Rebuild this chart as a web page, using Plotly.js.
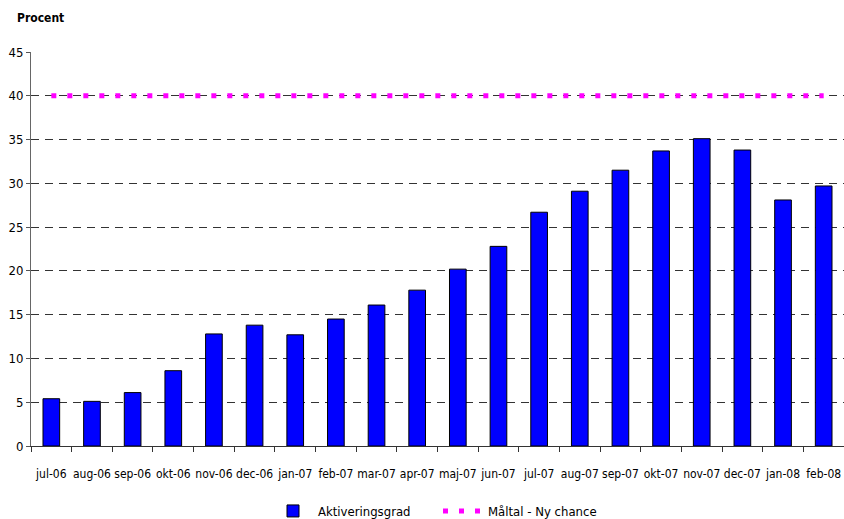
<!DOCTYPE html>
<html>
<head>
<meta charset="utf-8">
<script src="https://cdn.plot.ly/plotly-3.0.1.min.js"></script>
<style>html,body{margin:0;padding:0;background:#fff;}#chart{width:844px;height:519px;}</style>
</head>
<body>
<div id="chart"></div>
<script>
const months = ["jul-06","aug-06","sep-06","okt-06","nov-06","dec-06","jan-07","feb-07","mar-07","apr-07","maj-07","jun-07","jul-07","aug-07","sep-07","okt-07","nov-07","dec-07","jan-08","feb-08"];
const aktiveringsgrad = [5.4,5.1,6.1,8.6,12.8,13.8,12.7,14.5,16.1,17.8,20.2,22.8,26.7,29.1,31.5,33.7,35.1,33.8,28.1,29.7];
const maltal = [40,40,40,40,40,40,40,40,40,40,40,40,40,40,40,40,40,40,40,40];
const yTicks = [0,5,10,15,20,25,30,35,40,45];

const FONT = '"DejaVu Sans Condensed", "Liberation Sans Narrow", "Arial Narrow", sans-serif';

const traces = [
  {
    type: 'bar', name: 'Aktiveringsgrad', x: months, y: aktiveringsgrad,
    width: 0.41,
    marker: {color: '#0000FF', line: {color: '#000000', width: 1}}
  },
  {
    type: 'scatter', mode: 'lines', name: 'Måltal - Ny chance', x: months, y: maltal,
    line: {color: '#FF00FF', width: 5, dash: '5px,11px'}
  }
];

const layout = {
  width: 844, height: 519,
  margin: {l: 31, r: 0, t: 52, b: 73},
  paper_bgcolor: '#ffffff', plot_bgcolor: '#ffffff',
  font: {family: FONT, size: 12, color: '#000'},
  title: {text: '<b>Procent</b>', x: 17/844, xanchor: 'left', xref: 'container', y: 1 - 18/519, yanchor: 'middle', yref: 'container', font: {family: FONT, size: 12, color: '#000'}},
  showlegend: true,
  legend: {orientation: 'h', x: 268/844, xanchor: 'left', xref: 'container', y: 1 - 511/519, yanchor: 'middle', yref: 'container', font: {family: FONT, size: 13}, entrywidth: 115, entrywidthmode: 'pixels', itemwidth: 40, tracegroupgap: 0, traceorder: 'normal'},
  bargap: 0.59,
  xaxis: {
    type: 'category', tickson: 'boundaries', ticks: 'outside', ticklen: 5, tickcolor: '#333',
    tickangle: 0, ticklabelstandoff: 17,
    showline: true, linecolor: '#333', linewidth: 1, showgrid: false,
    tickfont: {family: FONT, size: 12}, automargin: false
  },
  yaxis: {
    range: [0, 45], tickvals: yTicks, ticks: 'outside', ticklen: 4, tickcolor: '#555',
    showline: true, linecolor: '#666', linewidth: 1,
    showgrid: true, gridcolor: '#333', gridwidth: 1, griddash: '8px,6px',
    zeroline: false, tickfont: {family: FONT, size: 13}, automargin: false
  }
};

Plotly.newPlot('chart', traces, layout, {displayModeBar: false, staticPlot: true});
</script>
</body>
</html>
